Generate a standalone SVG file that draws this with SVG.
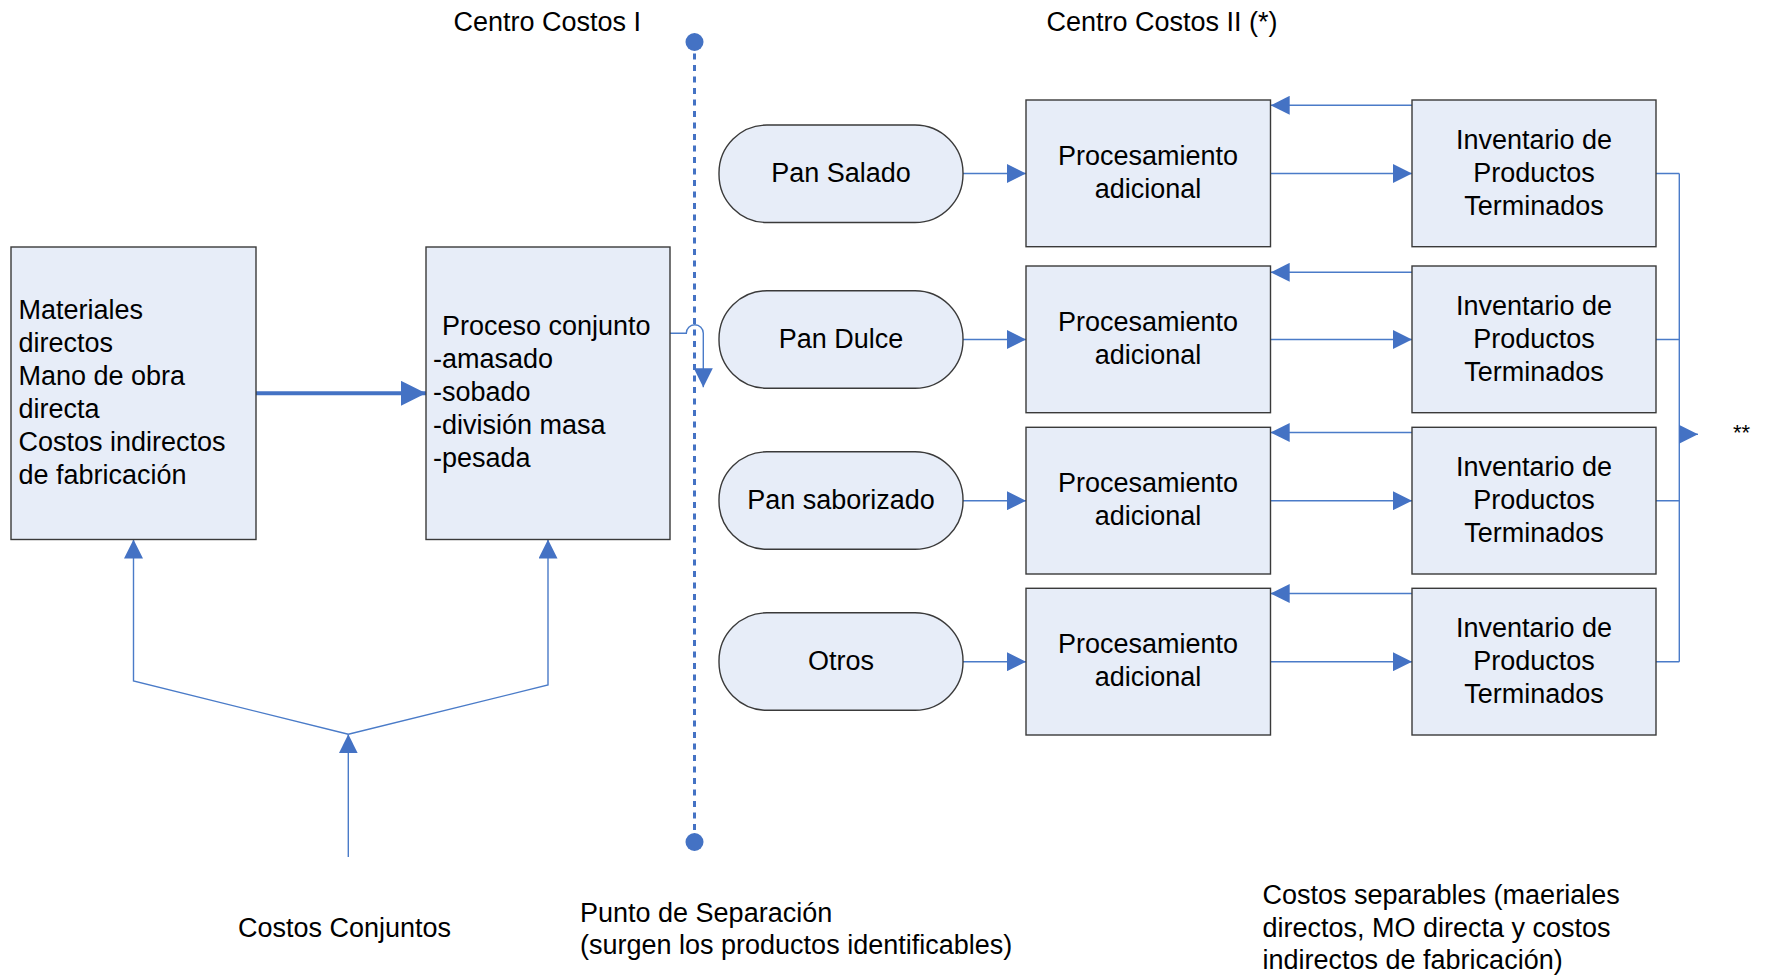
<svg xmlns="http://www.w3.org/2000/svg" width="1765" height="977" viewBox="0 0 1765 977">
<style>
.box{fill:#E7EDF8;stroke:#3a3a3a;stroke-width:1.4}
.t{font-family:"Liberation Sans",Arial,sans-serif;font-size:27px;fill:#000}
.c{text-anchor:middle}
.ln{fill:none;stroke:#4A7BC8;stroke-width:1.4}
</style>
<defs>
<marker id="a" markerUnits="userSpaceOnUse" markerWidth="19" markerHeight="19" viewBox="0 0 19 19" refX="19" refY="9.5" orient="auto"><path d="M0,0 L19,9.5 L0,19 z" fill="#4472C4"/></marker>
<marker id="ab" markerUnits="userSpaceOnUse" markerWidth="25" markerHeight="25" viewBox="0 0 25 25" refX="25" refY="12.5" orient="auto"><path d="M0,0 L25,12.5 L0,25 z" fill="#4472C4"/></marker>
</defs>
<rect width="1765" height="977" fill="#fff"/>

<text class="t" x="453.5" y="31">Centro Costos I</text>
<text class="t" x="1046.5" y="31">Centro Costos II (*)</text>

<g id="connectors">
<line x1="694.5" y1="42" x2="694.5" y2="842" stroke="#4472C4" stroke-width="3" stroke-dasharray="6 5.5"/>
<circle cx="694.5" cy="42" r="9" fill="#4472C4"/>
<circle cx="694.5" cy="842" r="9" fill="#4472C4"/>
<line x1="254" y1="393.3" x2="426" y2="393.3" stroke="#4472C4" stroke-width="4" marker-end="url(#ab)"/>
<path class="ln" d="M670,333.3 H686.3 A8.5,8.5 0 0 1 703.3,333.3 V387.3" marker-end="url(#a)"/>
<polyline class="ln" points="348.3,857 348.3,734.3" marker-end="url(#a)"/>
<polyline class="ln" points="348.3,734.3 133.5,681 133.5,539.5" marker-end="url(#a)"/>
<polyline class="ln" points="348.3,734.3 548,685 548,539.5" marker-end="url(#a)"/>
<line class="ln" x1="963" y1="173.5" x2="1026" y2="173.5" marker-end="url(#a)"/>
<line class="ln" x1="963" y1="339.5" x2="1026" y2="339.5" marker-end="url(#a)"/>
<line class="ln" x1="963" y1="500.7" x2="1026" y2="500.7" marker-end="url(#a)"/>
<line class="ln" x1="963" y1="661.7" x2="1026" y2="661.7" marker-end="url(#a)"/>
<line class="ln" x1="1270.7" y1="173.5" x2="1412" y2="173.5" marker-end="url(#a)"/>
<line class="ln" x1="1270.7" y1="339.5" x2="1412" y2="339.5" marker-end="url(#a)"/>
<line class="ln" x1="1270.7" y1="500.7" x2="1412" y2="500.7" marker-end="url(#a)"/>
<line class="ln" x1="1270.7" y1="661.7" x2="1412" y2="661.7" marker-end="url(#a)"/>
<line class="ln" x1="1412" y1="105.3" x2="1270.7" y2="105.3" marker-end="url(#a)"/>
<line class="ln" x1="1412" y1="272.3" x2="1270.7" y2="272.3" marker-end="url(#a)"/>
<line class="ln" x1="1412" y1="432.5" x2="1270.7" y2="432.5" marker-end="url(#a)"/>
<line class="ln" x1="1412" y1="593.5" x2="1270.7" y2="593.5" marker-end="url(#a)"/>
<path class="ln" d="M1656,173.5 H1679.3 M1656,339.5 H1679.3 M1656,500.7 H1679.3 M1656,661.7 H1679.3 M1679.3,173.5 V661.7"/>
<line class="ln" x1="1679.3" y1="434.3" x2="1698" y2="434.3" marker-end="url(#a)"/>
</g>

<g id="materiales">
<rect class="box" x="11" y="247" width="245" height="292.5"/>
<text class="t" x="18.5" y="319">Materiales</text>
<text class="t" x="18.5" y="352">directos</text>
<text class="t" x="18.5" y="385">Mano de obra</text>
<text class="t" x="18.5" y="418">directa</text>
<text class="t" x="18.5" y="451">Costos indirectos</text>
<text class="t" x="18.5" y="484">de fabricación</text>
</g>

<g id="proceso">
<rect class="box" x="426" y="247" width="244" height="292.5"/>
<text class="t" x="442" y="335">Proceso conjunto</text>
<text class="t" x="433" y="368">-amasado</text>
<text class="t" x="433" y="401">-sobado</text>
<text class="t" x="433" y="434">-división masa</text>
<text class="t" x="433" y="467">-pesada</text>
</g>

<g id="pan-salado"><rect class="box" x="719" y="125" width="244" height="97.5" rx="48" ry="48"/><text class="t c" x="841" y="182">Pan Salado</text></g>
<g id="pan-dulce"><rect class="box" x="719" y="290.7" width="244" height="97.5" rx="48" ry="48"/><text class="t c" x="841" y="348">Pan Dulce</text></g>
<g id="pan-saborizado"><rect class="box" x="719" y="451.8" width="244" height="97.5" rx="48" ry="48"/><text class="t c" x="841" y="509">Pan saborizado</text></g>
<g id="otros"><rect class="box" x="719" y="612.8" width="244" height="97.5" rx="48" ry="48"/><text class="t c" x="841" y="670">Otros</text></g>

<g id="proc1"><rect class="box" x="1026" y="100" width="244.5" height="146.7"/><text class="t c" x="1148" y="165">Procesamiento</text><text class="t c" x="1148" y="198">adicional</text></g>
<g id="proc2"><rect class="box" x="1026" y="266" width="244.5" height="146.7"/><text class="t c" x="1148" y="331">Procesamiento</text><text class="t c" x="1148" y="364">adicional</text></g>
<g id="proc3"><rect class="box" x="1026" y="427.3" width="244.5" height="146.7"/><text class="t c" x="1148" y="492">Procesamiento</text><text class="t c" x="1148" y="525">adicional</text></g>
<g id="proc4"><rect class="box" x="1026" y="588.3" width="244.5" height="146.7"/><text class="t c" x="1148" y="653">Procesamiento</text><text class="t c" x="1148" y="686">adicional</text></g>

<g id="inv1"><rect class="box" x="1412" y="100" width="244" height="146.7"/><text class="t c" x="1534" y="148.5">Inventario de</text><text class="t c" x="1534" y="181.5">Productos</text><text class="t c" x="1534" y="214.5">Terminados</text></g>
<g id="inv2"><rect class="box" x="1412" y="266" width="244" height="146.7"/><text class="t c" x="1534" y="314.5">Inventario de</text><text class="t c" x="1534" y="347.5">Productos</text><text class="t c" x="1534" y="380.5">Terminados</text></g>
<g id="inv3"><rect class="box" x="1412" y="427.3" width="244" height="146.7"/><text class="t c" x="1534" y="475.5">Inventario de</text><text class="t c" x="1534" y="508.5">Productos</text><text class="t c" x="1534" y="541.5">Terminados</text></g>
<g id="inv4"><rect class="box" x="1412" y="588.3" width="244" height="146.7"/><text class="t c" x="1534" y="636.5">Inventario de</text><text class="t c" x="1534" y="669.5">Productos</text><text class="t c" x="1534" y="702.5">Terminados</text></g>

<text class="t" x="1733" y="440" style="font-size:22px">**</text>

<text class="t" x="238" y="937">Costos Conjuntos</text>
<text class="t" x="580" y="922">Punto de Separación</text>
<text class="t" x="580" y="953.5">(surgen los productos identificables)</text>
<text class="t" x="1262.5" y="904">Costos separables (maeriales</text>
<text class="t" x="1262.5" y="936.5">directos, MO directa y costos</text>
<text class="t" x="1262.5" y="968.5">indirectos de fabricación)</text>
</svg>
